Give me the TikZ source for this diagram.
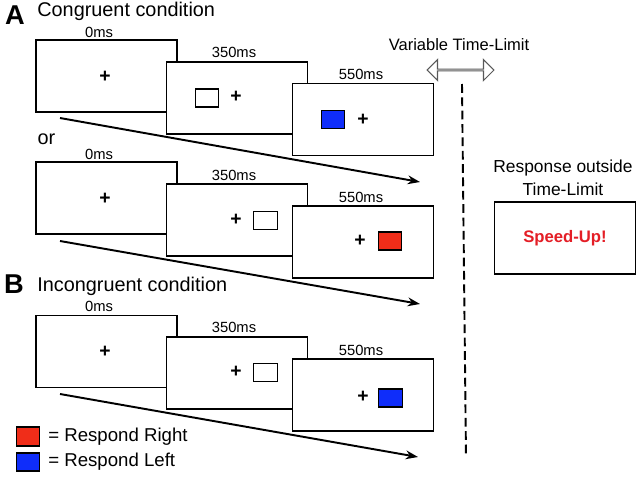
\documentclass[tikz,border=0pt]{standalone}
\usepackage{fontspec}
\setmainfont{Liberation Sans}
\usepackage{tikz}
\usetikzlibrary{positioning}
\usetikzlibrary{arrows.meta}
\usetikzlibrary{shapes.arrows}

\definecolor{cueblue}{RGB}{15,45,250}
\definecolor{cuered}{RGB}{240,45,25}
\definecolor{speedred}{RGB}{228,30,38}

\begin{document}
\begin{tikzpicture}[x=0.02cm, y=-0.02cm,
  screen/.style={draw, line width=0.9pt, fill=white, minimum width=2.82cm, minimum height=1.44cm, inner sep=0pt},
  cue/.style={draw, line width=0.6pt, minimum width=0.47cm, minimum height=0.36cm, inner sep=0pt},
  fixcross/.style={inner sep=0pt, font=\bfseries\fontsize{11}{11}\selectfont},
  delay/.style={inner sep=0pt, font=\fontsize{8.4}{10}\selectfont},
  heading/.style={inner sep=0pt, font=\fontsize{11.3}{13}\selectfont},
  panel/.style={inner sep=0pt, font=\bfseries\fontsize{15.5}{15}\selectfont},
  timeline/.style={-{Stealth[length=7pt, width=5pt]}, line width=1.1pt}]
  \useasboundingbox (0,0) rectangle (640,477);

  \node[panel] at (15,15) (label-a) {A};
  \node[heading, anchor=base west] at (37,16) (cong) {Congruent condition};
  \node[panel] at (14,284) (label-b) {B};
  \node[heading, anchor=base west] at (37,291) (incong) {Incongruent condition};

  % congruent, cue on the left
  \node[screen] at (106.5,76) (r1-s0) {};
  \node[screen] at (237,98) (r1-s350) {};
  \node[screen] at (363,119.5) (r1-s550) {};
  \node[delay] at (99,32.5) (r1-t0) {0ms};
  \node[delay] at (234,52.5) (r1-t350) {350ms};
  \node[delay] at (361,74) (r1-t550) {550ms};
  \node[fixcross] at (105,77) (r1-f0) {+};
  \node[fixcross] at (236,97) (r1-f350) {+};
  \node[fixcross] at (363,120) (r1-f550) {+};
  \node[cue] at (207,98) (r1-box) {};
  \node[cue, fill=cueblue] at (333,119.5) (r1-target) {};
  \coordinate (r1-start) at (60,118);
  \coordinate (r1-end) at (420,182);
  \draw[timeline] (r1-start) -- (r1-end);

  \node[heading] at (46.5,139) (or) {or};

  % congruent, cue on the right
  \node[screen] at (106.5,198) (r2-s0) {};
  \node[screen] at (237,220) (r2-s350) {};
  \node[screen] at (363,242) (r2-s550) {};
  \node[delay] at (99,154) (r2-t0) {0ms};
  \node[delay] at (234,175) (r2-t350) {350ms};
  \node[delay] at (361,197) (r2-t550) {550ms};
  \node[fixcross] at (105,199) (r2-f0) {+};
  \node[fixcross] at (236,220) (r2-f350) {+};
  \node[fixcross] at (360,241) (r2-f550) {+};
  \node[cue] at (265.5,220.5) (r2-box) {};
  \node[cue, fill=cuered] at (390,241) (r2-target) {};
  \coordinate (r2-start) at (60,241);
  \coordinate (r2-end) at (420,304);
  \draw[timeline] (r2-start) -- (r2-end);

  % incongruent
  \node[screen] at (106.5,351.5) (r3-s0) {};
  \node[screen] at (237,373) (r3-s350) {};
  \node[screen] at (363,395) (r3-s550) {};
  \node[delay] at (99,306) (r3-t0) {0ms};
  \node[delay] at (234,327) (r3-t350) {350ms};
  \node[delay] at (361,350) (r3-t550) {550ms};
  \node[fixcross] at (105,352) (r3-f0) {+};
  \node[fixcross] at (236,372) (r3-f350) {+};
  \node[fixcross] at (363,397) (r3-f550) {+};
  \node[cue] at (265.5,372.5) (r3-box) {};
  \node[cue, fill=cueblue] at (390.5,398) (r3-target) {};
  \coordinate (r3-start) at (60,394);
  \coordinate (r3-end) at (418,457);
  \draw[timeline] (r3-start) -- (r3-end);

  % time limit
  \node[inner sep=0pt, font=\fontsize{9.4}{11}\selectfont] at (459,45) (limit) {Variable Time-Limit};
  \node[double arrow, draw=black!65, fill=white, line width=0.6pt, minimum height=1.34cm, minimum width=0.42cm, double arrow head extend=0.13cm, inner sep=0pt] at (460.5,70) (limit-arrow) {};
  \coordinate (limit-top) at (462,84);
  \coordinate (limit-bottom) at (466,457);
  \draw[line width=1.1pt, dash pattern=on 5pt off 2.6pt] (limit-top) -- (limit-bottom);

  \node[inner sep=0pt, align=center, font=\fontsize{9.9}{13}\selectfont] at (563,178) (outside) {Response outside\\Time-Limit};
  \node[screen] at (565,238) (speed) {\textcolor{speedred}{\bfseries\fontsize{9.5}{11}\selectfont Speed-Up!}};

  % legend
  \node[cue, minimum height=0.38cm, fill=cuered] at (28,436.5) (key-red) {};
  \node[inner sep=0pt, anchor=west, font=\fontsize{10.6}{12}\selectfont] at (48,436.5) (key-right) {= Respond Right};
  \node[cue, fill=cueblue] at (28,462) (key-blue) {};
  \node[inner sep=0pt, anchor=west, font=\fontsize{10.6}{12}\selectfont] at (48,462) (key-left) {= Respond Left};
\end{tikzpicture}
\end{document}
